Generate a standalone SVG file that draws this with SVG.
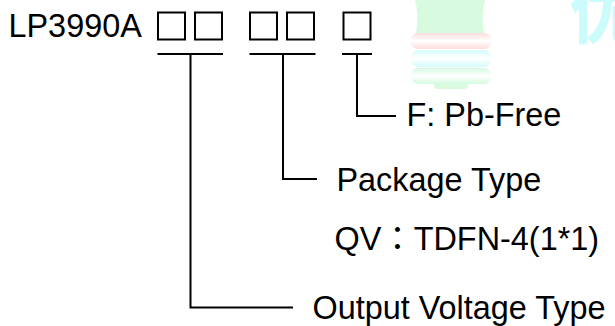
<svg xmlns="http://www.w3.org/2000/svg" width="615" height="326" viewBox="0 0 615 326">
<style>
  .t { font-family: "Liberation Sans", Arial, "Noto Sans CJK JP", sans-serif; font-size: 32.4px; fill: #000; }
  .box { fill: none; stroke: #000; stroke-width: 2; }
  .ln { fill: none; stroke: #000; stroke-width: 2; }
</style>
<defs>
  <linearGradient id="gPink" x1="0" y1="0" x2="0" y2="1">
    <stop offset="0" stop-color="#ffdcdc"/><stop offset="0.5" stop-color="#ffffff"/><stop offset="1" stop-color="#ffdcdc"/>
  </linearGradient>
  <linearGradient id="gCyan" x1="0" y1="0" x2="0" y2="1">
    <stop offset="0" stop-color="#d4fcfc"/><stop offset="0.5" stop-color="#ffffff"/><stop offset="1" stop-color="#d4fcfc"/>
  </linearGradient>
  <linearGradient id="gGreen" x1="0" y1="0" x2="0" y2="1">
    <stop offset="0" stop-color="#d4fadf"/><stop offset="0.5" stop-color="#ffffff"/><stop offset="1" stop-color="#d4fadf"/>
  </linearGradient>
</defs>
<g id="watermark">
  <path d="M415,0 L485,0 Q481,14 484,34 L416,34 Q419,14 415,0 Z" fill="#d8fbe0"/>
  <rect x="434" y="80" width="34" height="9" rx="4" fill="#d8fbe0"/>
  <rect x="411" y="33" width="80" height="16" rx="7" fill="url(#gPink)"/>
  <rect x="411" y="50" width="80" height="17" rx="7" fill="url(#gCyan)"/>
  <rect x="411" y="68" width="80" height="16" rx="7" fill="url(#gGreen)"/>
  <text x="569" y="38" font-family="'Noto Sans CJK SC', sans-serif" font-weight="bold" font-size="70" fill="#ccfbfb">优</text>
</g>
<g id="part-number">
  <text class="t" x="8.5" y="37">LP3990A</text>
  <rect class="box" x="158" y="12.5" width="27" height="27"/>
  <rect class="box" x="195" y="12.5" width="27" height="27"/>
  <rect class="box" x="250" y="12.5" width="27" height="27"/>
  <rect class="box" x="287" y="12.5" width="27" height="27"/>
  <rect class="box" x="343.5" y="12.5" width="27" height="27"/>
</g>
<g id="connectors">
  <path class="ln" d="M157.5,54 H223 M190.5,54 V307.5 H293"/>
  <path class="ln" d="M249.5,54 H315.5 M283,54 V179 H317"/>
  <path class="ln" d="M342,54 H372 M357,54 V116 H396"/>
</g>
<g id="label-f"><text class="t" x="406.5" y="126">F: Pb-Free</text></g>
<g id="label-package"><text class="t" x="336.5" y="190.5">Package Type</text></g>
<g id="label-qv"><text class="t" x="334.5" y="250">QV：TDFN-4(1*1)</text></g>
<g id="label-output"><text class="t" x="312.5" y="319">Output Voltage Type</text></g>
</svg>
